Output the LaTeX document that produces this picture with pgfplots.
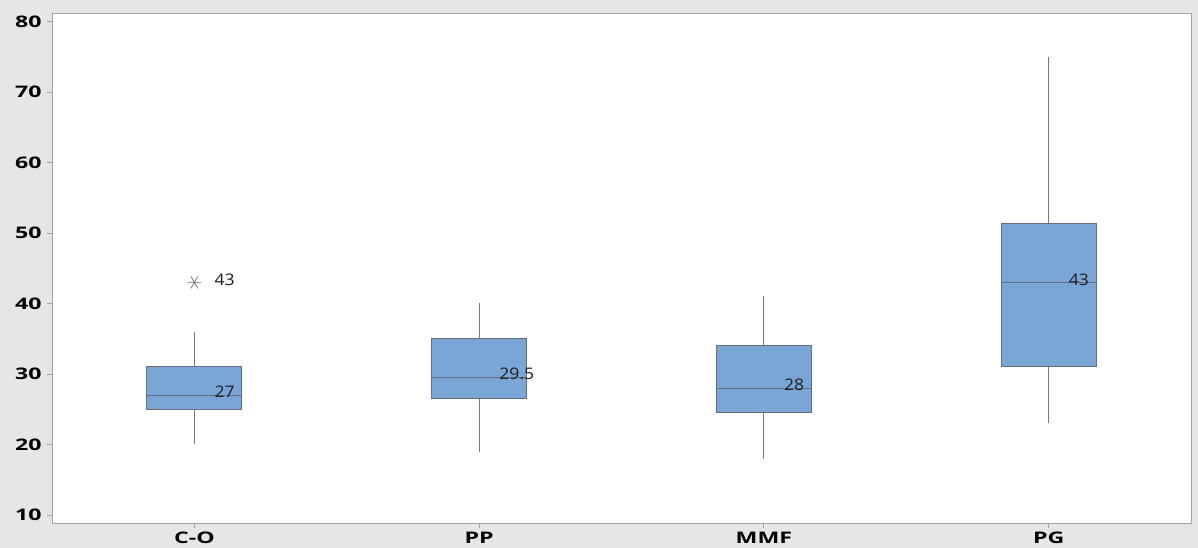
\documentclass[border=0pt]{standalone}
\usepackage{fontspec}
\setmainfont{Open Sans}
\newfontfamily\tickfont[FakeStretch=1.45]{Open Sans}
\newfontfamily\lblfont[FakeStretch=1.1]{Open Sans}
\usepackage{pgfplots}
\pgfplotsset{compat=1.18}
\definecolor{bg}{RGB}{230,230,230}
\definecolor{frame}{RGB}{165,165,165}
\definecolor{boxfill}{RGB}{122,165,215}
\definecolor{boxedge}{RGB}{100,110,125}
\definecolor{whisk}{RGB}{120,120,120}
\definecolor{lbl}{RGB}{30,30,30}
\begin{document}
\begin{tikzpicture}
\fill[bg] (-26bp,-12.5bp) rectangle (573bp,261.5bp);
\begin{axis}[
  scale only axis, width=569.5bp, height=254.5bp,
  at={(0,0)}, anchor=south west,
  xmin=-0.5, xmax=3.5, ymin=8.86, ymax=81.06,
  axis background/.style={fill=white},
  axis line style={frame, line width=0.5bp},
  xtick={0,1,2,3}, xticklabels={C-O,PP,MMF,PG},
  ytick={10,20,30,40,50,60,70,80},
  xtick pos=bottom, ytick pos=left,
  tick align=outside, major tick length=2.5bp,
  tick style={frame, line width=0.45bp},
  ticklabel style={font=\tickfont\fontsize{8}{9}\selectfont\bfseries, text=black},
  yticklabel style={inner xsep=2.5bp},
  xticklabel style={inner ysep=2bp},
  /pgf/number format/assume math mode=true,
  clip=false,
  every axis plot/.append style={line width=0.55bp},
  whisker/.style={draw=whisk, no markers},
  box/.style={draw=boxedge, fill=boxfill, no markers, line join=miter},
  med/.style={draw=boxedge, no markers},
]
% C-O
\addplot[whisker] coordinates {(0,20) (0,25)};
\addplot[whisker] coordinates {(0,31) (0,36)};
\addplot[box] coordinates {(-0.167,25) (0.167,25) (0.167,31) (-0.167,31) (-0.167,25)} -- cycle;
\addplot[med] coordinates {(-0.167,27) (0.167,27)};
\addplot[only marks, mark=asterisk, mark size=3.5bp, mark options={draw=whisk, rotate=90, line width=0.4bp}] coordinates {(0,43)};
% PP
\addplot[whisker] coordinates {(1,19) (1,26.5)};
\addplot[whisker] coordinates {(1,35) (1,40)};
\addplot[box] coordinates {(0.833,26.5) (1.167,26.5) (1.167,35) (0.833,35) (0.833,26.5)} -- cycle;
\addplot[med] coordinates {(0.833,29.5) (1.167,29.5)};
% MMF
\addplot[whisker] coordinates {(2,18) (2,24.5)};
\addplot[whisker] coordinates {(2,34) (2,41)};
\addplot[box] coordinates {(1.833,24.5) (2.167,24.5) (2.167,34) (1.833,34) (1.833,24.5)} -- cycle;
\addplot[med] coordinates {(1.833,28) (2.167,28)};
% PG
\addplot[whisker] coordinates {(3,23) (3,31)};
\addplot[whisker] coordinates {(3,51.4) (3,75)};
\addplot[box] coordinates {(2.833,31) (3.167,31) (3.167,51.4) (2.833,51.4) (2.833,31)} -- cycle;
\addplot[med] coordinates {(2.833,43) (3.167,43)};
% labels
\node[anchor=west, inner sep=0pt, text=lbl, font=\lblfont\fontsize{8}{8}\selectfont] at (axis cs:0.07,27.45) {27};
\node[anchor=west, inner sep=0pt, text=lbl, font=\lblfont\fontsize{8}{8}\selectfont] at (axis cs:1.07,29.95) {29.5};
\node[anchor=west, inner sep=0pt, text=lbl, font=\lblfont\fontsize{8}{8}\selectfont] at (axis cs:2.07,28.45) {28};
\node[anchor=west, inner sep=0pt, text=lbl, font=\lblfont\fontsize{8}{8}\selectfont] at (axis cs:3.07,43.35) {43};
\node[anchor=west, inner sep=0pt, text=lbl, font=\lblfont\fontsize{8}{8}\selectfont] at (axis cs:0.07,43.4) {43};
\end{axis}
\pgfresetboundingbox
\useasboundingbox (-26bp,-12.5bp) rectangle (573bp,261.5bp);
\end{tikzpicture}
\end{document}
